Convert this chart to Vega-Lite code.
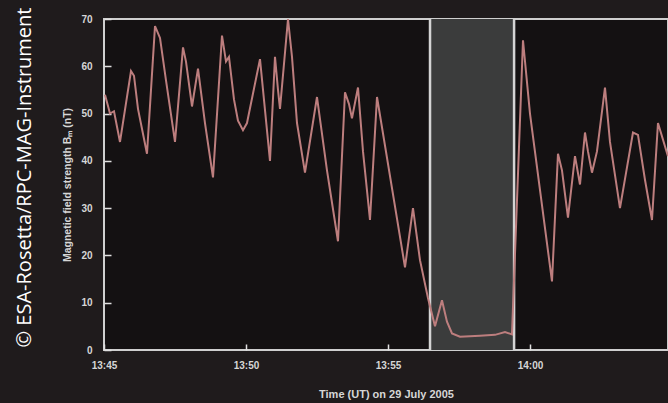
{
  "$schema": "https://vega.github.io/schema/vega-lite/v6.json",
  "width": 564,
  "height": 331,
  "autosize": {"type": "none"},
  "padding": {"left": 104, "top": 19, "right": 0, "bottom": 53},
  "background": "#1f1b1c",
  "title": {
    "text": "© ESA-Rosetta/RPC-MAG-Instrument",
    "orient": "left",
    "anchor": "middle",
    "color": "#ffffff",
    "font": "Open Sans",
    "fontSize": 20,
    "fontWeight": "normal",
    "offset": 28,
    "dx": 7
  },
  "config": {
    "view": {"fill": "#141112", "stroke": "#cfcfcf", "strokeWidth": 2},
    "axis": {
      "labelColor": "#d6d6d6",
      "titleColor": "#d6d6d6",
      "labelFont": "Liberation Sans",
      "titleFont": "Liberation Sans",
      "labelFontSize": 10,
      "labelFontWeight": "bold",
      "titleFontWeight": "bold",
      "domain": false,
      "grid": false,
      "ticks": true,
      "tickColor": "#e0e0e0",
      "tickWidth": 1.5,
      "tickOpacity": 1,
      "zindex": 1
    }
  },
  "datasets": {
    "field": [
      {"minute": 0.035, "B": 54}, {"minute": 0.211, "B": 50}, {"minute": 0.352, "B": 50.5},
      {"minute": 0.563, "B": 44}, {"minute": 0.951, "B": 59}, {"minute": 1.056, "B": 58},
      {"minute": 1.197, "B": 51}, {"minute": 1.514, "B": 41.5}, {"minute": 1.796, "B": 68.5},
      {"minute": 1.972, "B": 66}, {"minute": 2.183, "B": 57}, {"minute": 2.5, "B": 44},
      {"minute": 2.782, "B": 64}, {"minute": 2.887, "B": 61}, {"minute": 3.099, "B": 51.5},
      {"minute": 3.31, "B": 59.5}, {"minute": 3.556, "B": 48}, {"minute": 3.838, "B": 36.5},
      {"minute": 4.155, "B": 66.5}, {"minute": 4.296, "B": 61}, {"minute": 4.401, "B": 62},
      {"minute": 4.577, "B": 53}, {"minute": 4.718, "B": 48.5}, {"minute": 4.894, "B": 46.5},
      {"minute": 5.035, "B": 48}, {"minute": 5.493, "B": 61.5}, {"minute": 5.845, "B": 40},
      {"minute": 6.021, "B": 62}, {"minute": 6.127, "B": 55}, {"minute": 6.197, "B": 51},
      {"minute": 6.479, "B": 70}, {"minute": 6.62, "B": 62}, {"minute": 6.796, "B": 48},
      {"minute": 7.077, "B": 37.5}, {"minute": 7.5, "B": 53.5}, {"minute": 7.852, "B": 38},
      {"minute": 8.239, "B": 23}, {"minute": 8.486, "B": 54.5}, {"minute": 8.627, "B": 52},
      {"minute": 8.732, "B": 49}, {"minute": 8.944, "B": 55.5}, {"minute": 9.12, "B": 42},
      {"minute": 9.366, "B": 27.5}, {"minute": 9.613, "B": 53.5}, {"minute": 10.599, "B": 17.5},
      {"minute": 10.88, "B": 30}, {"minute": 11.127, "B": 19}, {"minute": 11.408, "B": 11},
      {"minute": 11.655, "B": 5}, {"minute": 11.901, "B": 10.5}, {"minute": 12.077, "B": 6},
      {"minute": 12.254, "B": 3.5}, {"minute": 12.535, "B": 2.8}, {"minute": 13.239, "B": 3},
      {"minute": 13.768, "B": 3.2}, {"minute": 14.12, "B": 3.8}, {"minute": 14.366, "B": 3.3},
      {"minute": 14.754, "B": 65.5}, {"minute": 15.0, "B": 50}, {"minute": 15.775, "B": 14.5},
      {"minute": 15.986, "B": 41.5}, {"minute": 16.127, "B": 38}, {"minute": 16.338, "B": 28},
      {"minute": 16.585, "B": 41}, {"minute": 16.761, "B": 35}, {"minute": 16.937, "B": 46},
      {"minute": 17.042, "B": 42}, {"minute": 17.183, "B": 37.5}, {"minute": 17.359, "B": 42},
      {"minute": 17.641, "B": 55.5}, {"minute": 17.817, "B": 44}, {"minute": 18.169, "B": 30},
      {"minute": 18.627, "B": 46}, {"minute": 18.803, "B": 45.5}, {"minute": 19.049, "B": 36},
      {"minute": 19.296, "B": 27.5}, {"minute": 19.507, "B": 48}, {"minute": 19.859, "B": 41}
    ],
    "interval": [{"start": 11.48, "end": 14.44}],
    "edges": [{"minute": 11.48}, {"minute": 14.44}]
  },
  "layer": [
    {
      "data": {"name": "interval"},
      "mark": {"type": "rect", "color": "#3b3c3c"},
      "encoding": {
        "x": {"field": "start", "type": "quantitative"},
        "x2": {"field": "end"}
      }
    },
    {
      "data": {"name": "edges"},
      "mark": {"type": "rule", "color": "#d4d4d4", "strokeWidth": 2.5},
      "encoding": {
        "x": {"field": "minute", "type": "quantitative"}
      }
    },
    {
      "data": {"name": "field"},
      "mark": {"type": "line", "color": "#bd7e7e", "strokeWidth": 2, "interpolate": "linear"},
      "encoding": {
        "x": {
          "field": "minute",
          "type": "quantitative",
          "scale": {"domain": [0, 19.86], "nice": false, "zero": false},
          "axis": {
            "title": "Time (UT) on 29 July 2005",
            "titleFontSize": 11,
            "values": [0, 5, 10, 15],
            "labelExpr": "floor((825 + datum.value) / 60) + ':' + ((825 + datum.value) % 60 < 10 ? '0' : '') + ((825 + datum.value) % 60)",
            "labelFlush": false,
            "ticks": true,
            "offset": -6,
            "tickSize": 6,
            "labelPadding": 10,
            "titlePadding": 18
          }
        },
        "y": {
          "field": "B",
          "type": "quantitative",
          "scale": {"domain": [0, 70], "nice": false},
          "axis": {
            "title": "Magnetic field strength Bₘ (nT)",
            "titleFontSize": 10.5,
            "values": [0, 10, 20, 30, 40, 50, 60, 70],
            "ticks": true,
            "offset": -7,
            "tickSize": 7,
            "labelPadding": 12,
            "titlePadding": 8,
            "labelFlush": false
          }
        }
      }
    }
  ]
}
